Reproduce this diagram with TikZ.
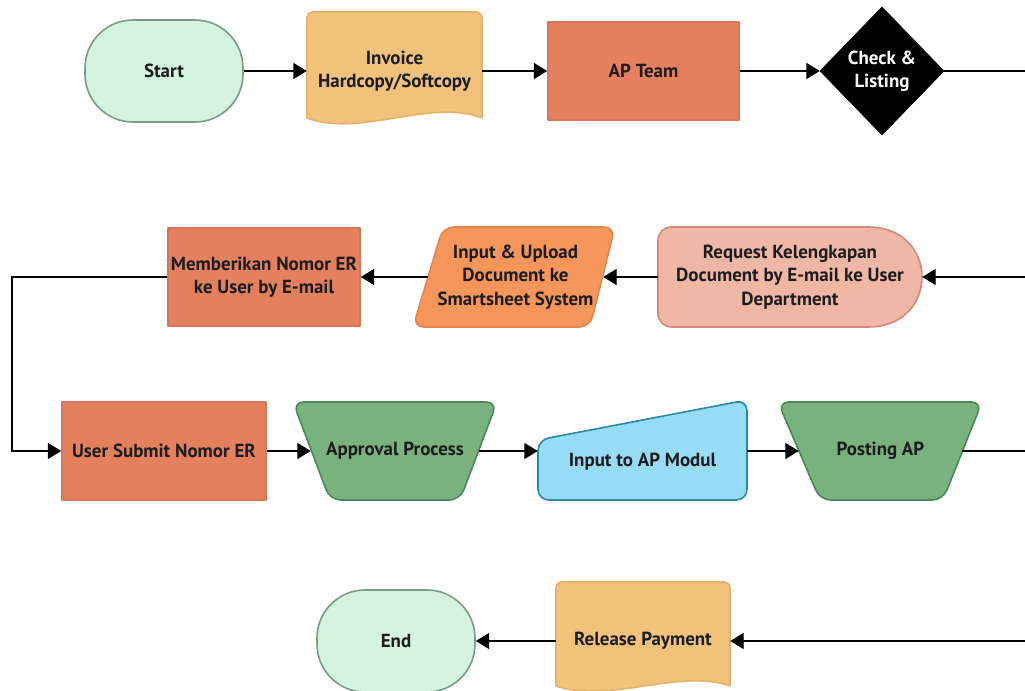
\documentclass[tikz,border=0pt]{standalone}
\usepackage{fontspec}
\setmainfont{PT Sans}
\usetikzlibrary{arrows.meta,calc}
\definecolor{mintF}{HTML}{D5F4DF}
\definecolor{mintD}{HTML}{7C9C88}
\definecolor{docF}{HTML}{F0C27C}
\definecolor{docD}{HTML}{E6B36A}
\definecolor{coralF}{HTML}{E5805F}
\definecolor{coralD}{HTML}{D9765A}
\definecolor{reqF}{HTML}{F1B7A6}
\definecolor{reqD}{HTML}{D4897A}
\definecolor{orgF}{HTML}{F6965A}
\definecolor{orgD}{HTML}{E5864E}
\definecolor{grnF}{HTML}{79B27F}
\definecolor{grnD}{HTML}{4B875A}
\definecolor{bluF}{HTML}{96DCF6}
\definecolor{bluD}{HTML}{2E88A8}
\definecolor{txt}{HTML}{1C1C1C}
\begin{document}
\begin{tikzpicture}[x=0.75pt,y=-0.75pt,
  lbl/.style={inner sep=0pt, align=center, font=\fontsize{14.2}{17.5}\selectfont\bfseries, text=txt},
  bx/.style n args={4}{at={({(#1+#3)/2},{(#2+#4)/2})}, minimum width={(#3-#1)*0.75pt}, minimum height={(#4-#2)*0.75pt}},
  shp/.style={line width=1.2pt, line join=round},
  conn/.style={line width=0.9pt, -{Triangle[length=10pt,width=12pt]}},
  plain/.style={line width=0.9pt},
]
\useasboundingbox (0,0) rectangle (1025,691);
\fill[white] (0,0) rectangle (1025,691);

% ---- row 1
\node[lbl, bx={85}{20}{243}{122}, fill=mintF, draw=mintD, shp, rounded corners=36pt] (start) {Start};
\filldraw[shp, fill=docF, draw=docD] (307,118) [rounded corners=4pt]-- (307,12) -- (482,12) [sharp corners]-- (482,118) .. controls (430,98) and (360,138) .. (307,118) -- cycle;
\node[lbl, bx={307}{12}{482}{130}] (inv) {Invoice\\Hardcopy/Softcopy};
\node[lbl, bx={548}{22}{739}{120}, fill=coralF, draw=coralD, shp] (apt) {AP Team};
\filldraw[black] (820,71) -- (882,7) -- (944,71) -- (882,135) -- cycle;
\node[lbl, text=white, bx={820}{7}{944}{135}] (chk) {Check \&\\Listing};

% ---- row 2
\filldraw[shp, fill=reqF, draw=reqD] (868,227) [rounded corners=10pt]-- (658,227) -- (658,327) [sharp corners]-- (868,327) .. controls (904,327) and (922,302) .. (922,277) .. controls (922,252) and (904,227) .. (868,227) -- cycle;
\node[lbl, bx={658}{227}{922}{327}] (req) {Request Kelengkapan\\Document by E-mail ke User\\Department};
\filldraw[shp, fill=orgF, draw=orgD, rounded corners=8pt] (443,227) -- (615,227) -- (590,327) -- (413,327) -- cycle;
\node[lbl, bx={428}{227}{603}{327}] (upl) {Input \& Upload\\Document ke\\Smartsheet System};
\node[lbl, bx={168}{228}{360}{326}, fill=coralF, draw=coralD, shp] (mem) {Memberikan Nomor ER\\ke User by E-mail};

% ---- row 3
\node[lbl, bx={62}{402}{266}{500}, fill=coralF, draw=coralD, shp] (usr) {User Submit Nomor ER};
\filldraw[shp, fill=grnF, draw=grnD, rounded corners=8pt] (293,402) -- (497,402) -- (460,500) -- (330,500) -- cycle;
\node[lbl, bx={311}{402}{479}{500}] (appr) {Approval Process};
\filldraw[shp, fill=bluF, draw=bluD, rounded corners=8pt] (538,440) -- (747,400) -- (747,500) -- (538,500) -- cycle;
\node[lbl, bx={538}{424}{747}{500}] (inap) {Input to AP Modul};
\filldraw[shp, fill=grnF, draw=grnD, rounded corners=8pt] (778,402) -- (982,402) -- (943,500) -- (820,500) -- cycle;
\node[lbl, bx={799}{402}{962}{500}] (post) {Posting AP};

% ---- row 4
\filldraw[shp, fill=docF, draw=docD] (556,686) [rounded corners=4pt]-- (556,582) -- (730,582) [sharp corners]-- (730,686) .. controls (680,668) and (610,704) .. (556,686) -- cycle;
\node[lbl, bx={556}{582}{730}{700}] (rel) {Release Payment};
\node[lbl, bx={317}{590}{475}{692}, fill=mintF, draw=mintD, shp, rounded corners=36pt] (endn) {End};

% ---- connectors
\coordinate (e1) at (1030,71);
\coordinate (e2) at (1030,277);
\coordinate (e3) at (1030,451);
\coordinate (e4) at (1030,641);
\coordinate (k1) at (12,277);
\coordinate (k2) at (12,451);
\draw[conn] (start) -- (inv);
\draw[conn] (inv) -- (apt);
\draw[conn] (apt) -- (chk);
\draw[plain] (chk) -- (e1);
\draw[conn] (e2) -- (req);
\draw[conn] (req) -- (upl);
\draw[conn] (upl) -- (mem);
\draw[conn] (mem) -- (k1) -- (k2) -- (usr);
\draw[conn] (usr) -- (appr);
\draw[conn] (appr) -- (appr -| inap.west);
\draw[conn] (inap.east |- post) -- (post);
\draw[plain] (post) -- (e3);
\draw[conn] (e4) -- (rel);
\draw[conn] (rel) -- (endn);
\end{tikzpicture}
\end{document}
